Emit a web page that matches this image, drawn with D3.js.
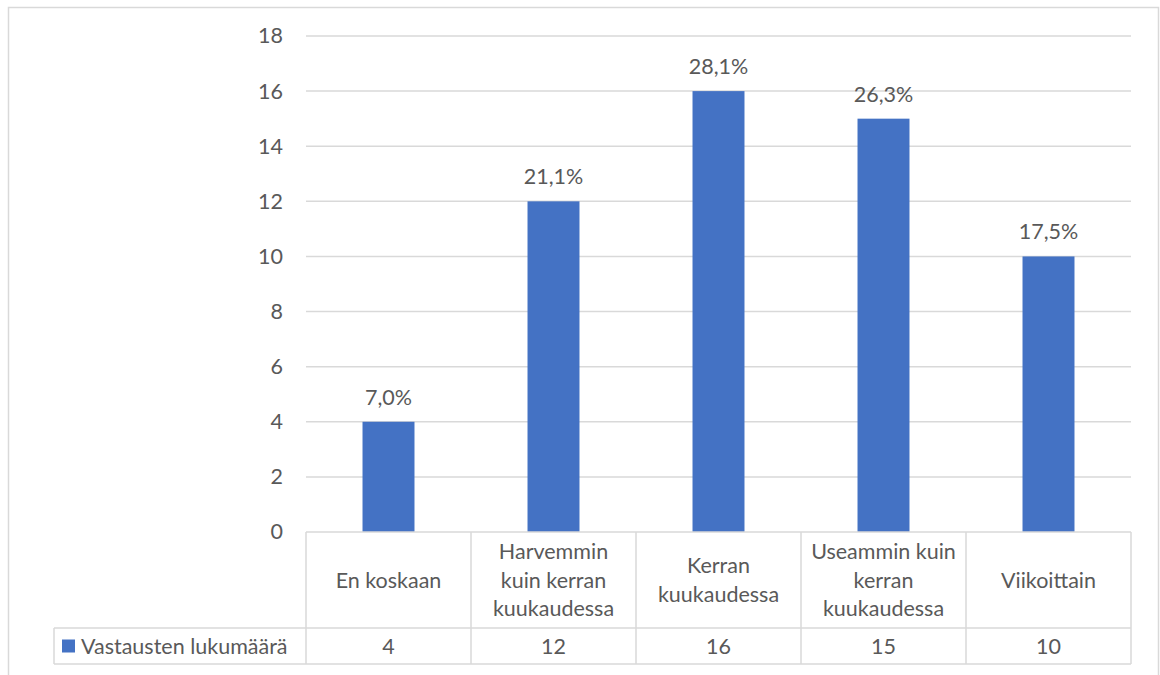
<!DOCTYPE html>
<html>
<head>
<meta charset="utf-8">
<script src="https://cdn.jsdelivr.net/npm/d3@7"></script>
<style>
  html, body { margin: 0; padding: 0; background: #ffffff; }
  svg text { font-family: "Lato", "Open Sans", sans-serif; fill: #595959; }
</style>
</head>
<body>
<svg id="chart" width="1160" height="675"></svg>
<script>
// Survey answers: how often respondents do it
const categories = [
  "En koskaan",
  "Harvemmin kuin kerran kuukaudessa",
  "Kerran kuukaudessa",
  "Useammin kuin kerran kuukaudessa",
  "Viikoittain"
];
// Wrapped lines of each category header in the data table
const categoryLines = [
  ["En koskaan"],
  ["Harvemmin", "kuin kerran", "kuukaudessa"],
  ["Kerran", "kuukaudessa"],
  ["Useammin kuin", "kerran", "kuukaudessa"],
  ["Viikoittain"]
];
const seriesName = "Vastausten lukumäärä";
const counts = [4, 12, 16, 15, 10];
const yTicks = [0, 2, 4, 6, 8, 10, 12, 14, 16, 18];

const svg = d3.select("#chart");
const grid = "#d9d9d9";
const barColor = "#4472C4";
const fontSize = 21.5;

// Chart frame
svg.append("rect")
  .attr("x", 8.5).attr("y", 7.5)
  .attr("width", 1150).attr("height", 700)
  .attr("fill", "none").attr("stroke", grid).attr("stroke-width", 1.5);

const plot = { left: 306, right: 1131, top: 36, bottom: 532 };

const x = d3.scaleBand()
  .domain(categories)
  .range([plot.left, plot.right])
  .paddingInner(0).paddingOuter(0);

const y = d3.scaleLinear()
  .domain([0, 18])
  .range([plot.bottom, plot.top]);

// Horizontal gridlines
svg.append("g")
  .selectAll("line")
  .data(yTicks.filter(t => t > 0))
  .join("line")
  .attr("x1", plot.left).attr("x2", plot.right)
  .attr("y1", d => y(d)).attr("y2", d => y(d))
  .attr("stroke", grid).attr("stroke-width", 1.5);

// Y axis labels
const yAxis = d3.axisLeft(y).tickValues(yTicks).tickSize(0).tickPadding(23);
svg.append("g")
  .attr("transform", `translate(${plot.left},0)`)
  .call(yAxis)
  .call(g => g.select(".domain").remove())
  .call(g => g.selectAll("text")
    .attr("font-size", fontSize)
    .attr("fill", "#595959")
    .style("font-family", "Lato, 'Open Sans', sans-serif"));

// Bars
const barW = x.bandwidth() * 0.315;
svg.append("g")
  .selectAll("rect")
  .data(counts)
  .join("rect")
  .attr("x", (d, i) => x(categories[i]) + (x.bandwidth() - barW) / 2)
  .attr("y", d => y(d))
  .attr("width", barW)
  .attr("height", d => y(0) - y(d))
  .attr("fill", barColor);

// Share labels above bars
const total = d3.sum(counts);
const pct = d => (d / total * 100).toFixed(1).replace(".", ",") + "%";
svg.append("g")
  .selectAll("text")
  .data(counts)
  .join("text")
  .attr("x", (d, i) => x(categories[i]) + x.bandwidth() / 2)
  .attr("y", d => y(d) - 17)
  .attr("text-anchor", "middle")
  .attr("font-size", fontSize)
  .text(pct);

// Data table
const table = { left: 54, top: 532, mid: 628, bottom: 664 };
const tg = svg.append("g").attr("stroke", grid).attr("stroke-width", 1.5);
// header row (categories)
tg.append("line").attr("x1", plot.left).attr("x2", plot.right)
  .attr("y1", table.top).attr("y2", table.top);
tg.append("line").attr("x1", table.left).attr("x2", plot.right)
  .attr("y1", table.mid).attr("y2", table.mid);
tg.append("line").attr("x1", table.left).attr("x2", plot.right)
  .attr("y1", table.bottom).attr("y2", table.bottom);
tg.append("line").attr("x1", table.left).attr("x2", table.left)
  .attr("y1", table.mid).attr("y2", table.bottom);
const bounds = categories.map(c => x(c)).concat([plot.right]);
tg.selectAll("line.v")
  .data(bounds)
  .join("line")
  .attr("class", "v")
  .attr("x1", d => d).attr("x2", d => d)
  .attr("y1", table.top).attr("y2", table.bottom);

// Category headers
const lineH = 28.5;
const headerMid = (table.top + table.mid) / 2;
svg.append("g")
  .selectAll("text")
  .data(categoryLines)
  .join("text")
  .attr("text-anchor", "middle")
  .attr("font-size", fontSize)
  .each(function(lines, i) {
    const cx = x(categories[i]) + x.bandwidth() / 2;
    const y0 = headerMid - (lines.length - 1) * lineH / 2;
    d3.select(this).selectAll("tspan")
      .data(lines)
      .join("tspan")
      .attr("x", cx)
      .attr("y", (l, j) => y0 + j * lineH)
      .attr("dy", "0.35em")
      .text(l => l);
  });

// Series row: legend key + values
const rowMid = (table.mid + table.bottom) / 2;
svg.append("rect")
  .attr("x", 62).attr("y", rowMid - 6.5)
  .attr("width", 13).attr("height", 13)
  .attr("fill", barColor);
svg.append("text")
  .attr("x", 81).attr("y", rowMid).attr("dy", "0.35em")
  .attr("font-size", fontSize)
  .text(seriesName);
svg.append("g")
  .selectAll("text")
  .data(counts)
  .join("text")
  .attr("x", (d, i) => x(categories[i]) + x.bandwidth() / 2)
  .attr("y", rowMid).attr("dy", "0.35em")
  .attr("text-anchor", "middle")
  .attr("font-size", fontSize)
  .text(d => d);
</script>
</body>
</html>
